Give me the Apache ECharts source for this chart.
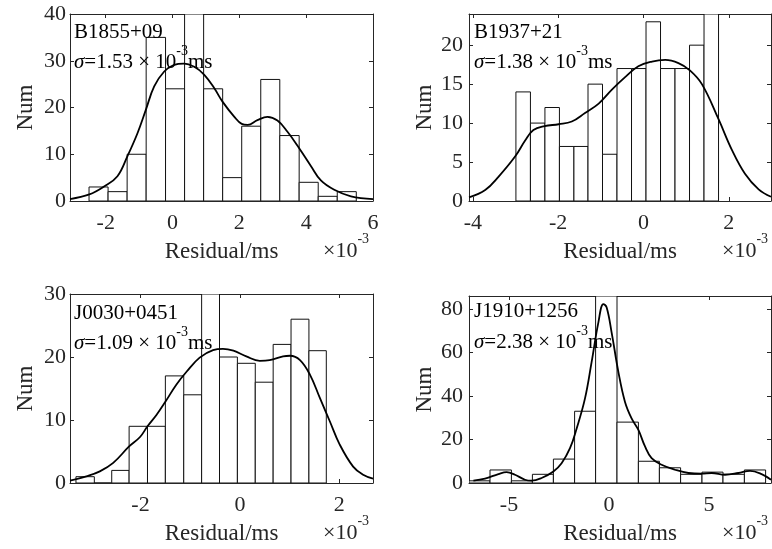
<!DOCTYPE html>
<html><head><meta charset="utf-8">
<script src="https://cdn.jsdelivr.net/npm/echarts@6.0.0/dist/echarts.min.js"></script>
<style>html,body{margin:0;padding:0;background:#fff}#c{width:772px;height:549px}</style>
</head><body><div id="c"></div>
<script>
// ---------- data ----------
const pulsarNames = ['B1855+09', 'B1937+21', 'J0030+0451', 'J1910+1256'];
const sigmaValues = ['1.53', '1.38', '1.09', '2.38'];

const xRange1 = [-3.07, 6.0];
const xTicks1 = [-2, 0, 2, 4, 6];
const yRange1 = [0, 40];
const yTicks1 = [0, 10, 20, 30, 40];
const binEdges1 = [-2.50, -1.93, -1.36, -0.79, -0.21, 0.36, 0.93, 1.50, 2.07, 2.64, 3.21, 3.79, 4.36, 4.93, 5.50];
const counts1 = [3, 2, 10, 35, 24, 40, 24, 5, 16, 26, 14, 4, 1, 2];
const curve1 = [[-3.07,0.4],[-2.49,1.4],[-2.05,3.1],[-1.65,5.3],[-1.35,9.6],[-1.05,14.5],[-0.80,19.5],[-0.55,24.5],[-0.25,27.7],[0.05,29.1],[0.33,29.4],[0.65,28.7],[0.95,27.0],[1.25,24.1],[1.50,21.2],[1.85,18.0],[2.07,16.5],[2.25,16.3],[2.54,17.3],[2.84,18.0],[3.14,17.2],[3.44,14.8],[3.78,11.4],[4.14,7.5],[4.44,4.4],[4.84,2.4],[5.34,1.0],[6.0,0.4]];

const xRange2 = [-4.09, 2.99];
const xTicks2 = [-4, -2, 0, 2];
const yRange2 = [0, 24];
const yTicks2 = [0, 5, 10, 15, 20];
const binEdges2 = [-2.99, -2.65, -2.31, -1.97, -1.63, -1.30, -0.96, -0.62, -0.28, 0.06, 0.40, 0.74, 1.08, 1.42, 1.76];
const counts2 = [14, 10, 12, 7, 7, 15, 6, 17, 17, 23, 17, 17, 20, 24];
const curve2 = [[-4.09,0.47],[-3.71,1.4],[-3.40,3.1],[-3.01,5.7],[-2.77,7.8],[-2.58,9.1],[-2.32,9.6],[-1.99,9.85],[-1.68,10.2],[-1.37,11.3],[-1.05,12.5],[-0.74,14.3],[-0.43,15.9],[-0.12,17.3],[0.20,17.9],[0.51,18.1],[0.82,17.7],[1.08,16.8],[1.37,15.0],[1.76,10.5],[2.07,6.6],[2.38,3.5],[2.70,1.5],[2.99,0.55]];

const xRange3 = [-3.42, 2.68];
const xTicks3 = [-2, 0, 2];
const yRange3 = [0, 30];
const yTicks3 = [0, 10, 20, 30];
const binEdges3 = [-3.30, -2.93, -2.58, -2.23, -1.86, -1.50, -1.13, -0.77, -0.41, -0.05, 0.31, 0.67, 1.03, 1.39, 1.74];
const counts3 = [1, 0, 2, 9, 9, 17, 14, 30, 20, 19, 16, 22, 26, 21];
const curve3 = [[-3.42,0.37],[-3.09,1.06],[-2.82,1.85],[-2.55,3.2],[-2.23,5.8],[-2.01,7.3],[-1.86,9.0],[-1.68,10.8],[-1.50,12.9],[-1.28,15.6],[-1.07,17.7],[-0.81,19.9],[-0.54,21.1],[-0.34,21.3],[-0.13,21.0],[0.13,20.1],[0.40,19.4],[0.60,19.5],[0.87,20.1],[1.01,20.2],[1.21,19.5],[1.41,17.2],[1.61,13.5],[1.81,9.8],[2.01,6.1],[2.28,2.6],[2.48,1.3],[2.68,0.7]];

const xRange4 = [-7.0, 8.1];
const xTicks4 = [-5, 0, 5];
const yRange4 = [0, 86];
const yTicks4 = [0, 20, 40, 60, 80];
const binEdges4 = [-7.00, -5.95, -4.88, -3.83, -2.78, -1.72, -0.67, 0.40, 1.47, 2.52, 3.58, 4.65, 5.70, 6.77, 7.83];
const counts4 = [1, 6, 1, 4, 11, 33, 86, 28, 10, 7, 4, 5, 4, 6];
const curve4 = [[-6.78,1.07],[-6.2,2.0],[-5.53,4.1],[-5.12,5.0],[-4.7,3.8],[-4.2,1.5],[-3.87,1.07],[-3.37,2.3],[-2.78,5.3],[-2.37,9.1],[-1.95,16],[-1.62,25],[-1.2,38.9],[-0.87,55.6],[-0.53,73.9],[-0.28,82.3],[-0.12,80.8],[0.13,69.3],[0.47,51],[0.8,37.3],[1.13,29.7],[1.47,24.4],[1.8,16.8],[2.13,11.4],[2.63,8.4],[3.3,6.1],[3.97,4.6],[4.63,4.3],[5.13,4.6],[5.8,3.8],[6.47,4.6],[7.05,5.6],[7.63,4.1],[8.1,1.5]];

// ---------- layout / styles ----------
const FONT = 'Liberation Serif';
const AX = '#262626';
const grids = [
  {left: 70, top: 14, width: 303, height: 187},
  {left: 469, top: 14, width: 302, height: 187},
  {left: 70, top: 294, width: 303, height: 189},
  {left: 469, top: 296, width: 302, height: 187}
];
const panels = [
  {xr: xRange1, xt: xTicks1, yr: yRange1, yt: yTicks1, edges: binEdges1, counts: counts1, curve: curve1},
  {xr: xRange2, xt: xTicks2, yr: yRange2, yt: yTicks2, edges: binEdges2, counts: counts2, curve: curve2},
  {xr: xRange3, xt: xTicks3, yr: yRange3, yt: yTicks3, edges: binEdges3, counts: counts3, curve: curve3},
  {xr: xRange4, xt: xTicks4, yr: yRange4, yt: yTicks4, edges: binEdges4, counts: counts4, curve: curve4}
];
const yLabelMargin = [4, 6, 4, 6];
const textPos = [
  {x: 74, y1: 32, y2: 62},
  {x: 474, y1: 32, y2: 62},
  {x: 74, y1: 313, y2: 343},
  {x: 474, y1: 311, y2: 342}
];

const xAxes = [], yAxes = [], series = [], graphics = [];
const lineStyle = {color: AX, width: 1};
panels.forEach((p, i) => {
  const tick = {show: true, inside: true, length: 4, customValues: p.xt, lineStyle};
  xAxes.push({
    gridIndex: i, type: 'value', min: p.xr[0], max: p.xr[1], position: 'bottom',
    name: 'Residual/ms', nameLocation: 'middle', nameGap: 39,
    nameTextStyle: {fontFamily: FONT, fontSize: 23, color: AX},
    axisLine: {show: true, onZero: false, lineStyle},
    axisTick: tick,
    axisLabel: {customValues: p.xt, fontFamily: FONT, fontSize: 22, color: AX, margin: 11},
    splitLine: {show: false}
  });
  xAxes.push({
    gridIndex: i, type: 'value', min: p.xr[0], max: p.xr[1], position: 'top',
    axisLine: {show: true, onZero: false, lineStyle},
    axisTick: tick, axisLabel: {show: false}, splitLine: {show: false}
  });
  const ytick = {show: true, inside: true, length: 4, customValues: p.yt, lineStyle};
  yAxes.push({
    gridIndex: i, type: 'value', min: p.yr[0], max: p.yr[1], position: 'left',
    name: 'Num', nameLocation: 'middle', nameGap: 33, nameRotate: 90,
    nameTextStyle: {fontFamily: FONT, fontSize: 23, color: AX},
    axisLine: {show: true, onZero: false, lineStyle},
    axisTick: ytick,
    axisLabel: {customValues: p.yt, fontFamily: FONT, fontSize: 22, color: AX, margin: yLabelMargin[i]},
    splitLine: {show: false}
  });
  yAxes.push({
    gridIndex: i, type: 'value', min: p.yr[0], max: p.yr[1], position: 'right',
    axisLine: {show: true, onZero: false, lineStyle},
    axisTick: ytick, axisLabel: {show: false}, splitLine: {show: false}
  });
  const bins = p.counts.map((c, k) => [p.edges[k], p.edges[k + 1], c]);
  series.push({
    type: 'custom', xAxisIndex: 2 * i, yAxisIndex: 2 * i, data: bins, clip: true, z: 2,
    encode: {x: [0, 1], y: 2},
    renderItem: (params, api) => {
      const a = api.coord([api.value(0), api.value(2)]);
      const b = api.coord([api.value(1), 0]);
      return {type: 'rect', shape: {x: a[0], y: a[1], width: b[0] - a[0], height: b[1] - a[1]},
        style: {fill: '#fff', stroke: '#111', lineWidth: 1}};
    }
  });
  series.push({
    type: 'line', xAxisIndex: 2 * i, yAxisIndex: 2 * i, data: p.curve, smooth: 0.4,
    showSymbol: false, clip: true, z: 3, lineStyle: {color: '#000', width: 1.8}, silent: true
  });
  const t = textPos[i];
  graphics.push({type: 'text', x: t.x, y: t.y1, z: 10,
    style: {text: pulsarNames[i], font: '21px "Liberation Serif"', fill: '#000', verticalAlign: 'middle', align: 'left'}});
  graphics.push({type: 'text', x: t.x, y: t.y2, z: 10,
    style: {
      text: '{s|σ}{n|=' + sigmaValues[i] + ' × 10}{p|-3}{n|ms}',
      verticalAlign: 'middle', align: 'left',
      rich: {
        s: {fontFamily: FONT, fontStyle: 'italic', fontSize: 21, lineHeight: 36, verticalAlign: 'middle', fill: '#000'},
        n: {fontFamily: FONT, fontSize: 21, lineHeight: 36, verticalAlign: 'middle', fill: '#000'},
        p: {fontFamily: FONT, fontSize: 14, lineHeight: 14, verticalAlign: 'top', fill: '#000'}
      }
    }});
  const g = grids[i];
  graphics.push({type: 'text', x: g.left + 253, y: g.top + g.height + 50, z: 10,
    style: {
      text: '{n|×10}{p|-3}', verticalAlign: 'middle', align: 'left',
      rich: {
        n: {fontFamily: FONT, fontSize: 22, lineHeight: 37, verticalAlign: 'middle', fill: AX},
        p: {fontFamily: FONT, fontSize: 14, lineHeight: 14, verticalAlign: 'top', fill: AX}
      }
    }});
});

const chart = echarts.init(document.getElementById('c'), null, {renderer: 'canvas'});
chart.setOption({
  animation: false,
  backgroundColor: '#fff',
  grid: grids.map(g => Object.assign({containLabel: false}, g)),
  xAxis: xAxes,
  yAxis: yAxes,
  series: series,
  graphic: graphics
});
</script></body></html>
